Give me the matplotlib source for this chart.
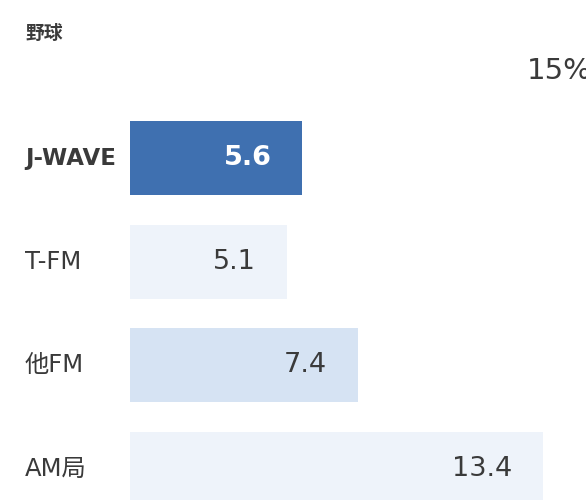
import matplotlib
matplotlib.use("Agg")
import matplotlib.pyplot as plt

plt.rcParams['font.family'] = ['DejaVu Sans', 'Noto Sans CJK JP']

title = "野球"
stations = ["J-WAVE", "T-FM", "他FM", "AM局"]
shares = [5.6, 5.1, 7.4, 13.4]
axis_max = 15
axis_label = "15%"

bar_colors = ["#3f70b0", "#eef3fa", "#d6e3f3", "#eef3fa"]
value_colors = ["white", "#3a3a3a", "#3a3a3a", "#3a3a3a"]
label_weights = ["bold", "normal", "normal", "normal"]
label_sizes = [16.5, 17.5, 17.5, 17.5]
text_color = "#3a3a3a"

fig = plt.figure(figsize=(5.86, 5.0), dpi=100)
ax = fig.add_axes([0, 0, 1, 1])

# about 30.8 px per unit, bars start at x=130 px
px_per_unit = 30.8
ax.set_xlim(-130 / px_per_unit, (586 - 130) / px_per_unit)
row_px = 103.5
first_px = 158
ax.set_ylim((500 - first_px) / row_px, -first_px / row_px)
ax.axis("off")

ypos = range(len(stations))
ax.barh(ypos, shares, height=74 / row_px, color=bar_colors, left=0)

for i, (name, v) in enumerate(zip(stations, shares)):
    ax.text(-105 / px_per_unit, i, name, ha="left", va="center",
            fontsize=label_sizes[i], color=text_color, fontweight=label_weights[i])
    ax.text(v - 1.0, i, f"{v:.1f}", ha="right", va="center",
            fontsize=19.5, color=value_colors[i],
            fontweight="bold" if i == 0 else "normal")

ax.text(-105 / px_per_unit, -125 / row_px, title, ha="left", va="center",
        fontsize=13.5, fontweight="bold", color=text_color)
ax.text(axis_max - 2.12, -87 / row_px, axis_label, ha="left", va="center",
        fontsize=21, color=text_color)

fig.savefig("out.png", dpi=100)
